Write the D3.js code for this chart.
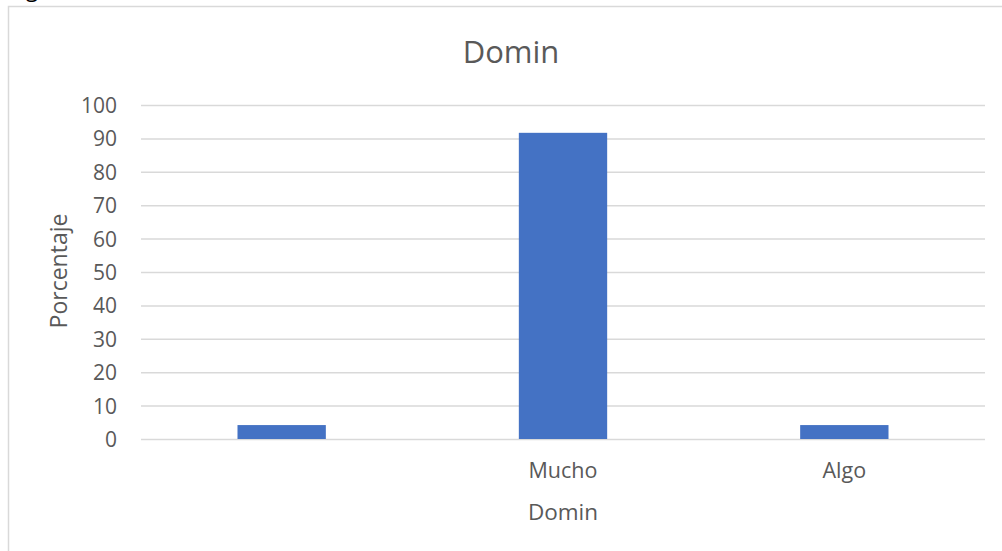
<!DOCTYPE html>
<html><head><meta charset="utf-8">
<script src="https://cdn.jsdelivr.net/npm/d3@7"></script>
<style>body{margin:0;background:#fff;} svg{display:block;} text{font-family:"Open Sans",sans-serif;}</style>
</head><body>
<svg id="c" width="1002" height="551"></svg>
<script>
const categories = ["", "Mucho", "Algo"];
const values = [4.17, 91.67, 4.17];
const yTicks = [0,10,20,30,40,50,60,70,80,90,100];
const chartTitle = "Domin";
const xTitle = "Domin";
const yTitle = "Porcentaje";

const svg = d3.select("#c");
const L = 141, R = 985, T = 105, B = 439;
const textColor = "#595959";

// frame
svg.append("rect").attr("x", 8.5).attr("y", 6.5).attr("width", 1010).attr("height", 560)
  .attr("fill", "none").attr("stroke", "#d9d9d9").attr("stroke-width", 1.5);
// cut-off caption glyph at top-left (as in the reference)
svg.append("text").attr("x", 26).attr("y", -3).attr("font-size", 22).attr("fill", "#000").text("g");

const x = d3.scaleBand().domain(categories.map((d,i)=>i)).range([L, R]).paddingInner(0.686).paddingOuter(0.343);
const y = d3.scaleLinear().domain([0, 100]).range([B, T]);

// gridlines
svg.append("g").selectAll("line").data(yTicks).join("line")
  .attr("x1", L).attr("x2", R).attr("y1", d=>y(d)+0.5).attr("y2", d=>y(d)+0.5)
  .attr("stroke", "#d9d9d9").attr("stroke-width", 1.5);

// y axis labels
const yAxis = d3.axisLeft(y).tickValues(yTicks).tickSize(0).tickPadding(0);
const yg = svg.append("g").attr("transform", `translate(117,0)`).call(yAxis);
yg.select(".domain").remove();
yg.selectAll("text").attr("font-size", 21).attr("fill", textColor).attr("font-family", '"Open Sans",sans-serif').attr("dy", "0.36em");

// bars
svg.append("g").selectAll("rect").data(values).join("rect")
  .attr("x", (d,i)=>x(i)).attr("width", x.bandwidth())
  .attr("y", d=>y(d)).attr("height", d=>B - y(d))
  .attr("fill", "#4472c4");

// x axis labels
const xAxis = d3.axisBottom(x).tickFormat(i=>categories[i]).tickSize(0).tickPadding(0);
const xg = svg.append("g").attr("transform", `translate(0,${B})`).call(xAxis);
xg.select(".domain").remove();
xg.selectAll("text").attr("font-size", 21.5).attr("fill", textColor).attr("font-family", '"Open Sans",sans-serif').attr("dy", null).attr("y", 39);

// titles
svg.append("text").attr("x", 511).attr("y", 63).attr("text-anchor", "middle")
  .attr("font-size", 31).attr("fill", textColor).text(chartTitle);
svg.append("text").attr("x", 563).attr("y", 520).attr("text-anchor", "middle")
  .attr("font-size", 22.5).attr("fill", textColor).text(xTitle);
svg.append("text").attr("transform", "translate(67,271) rotate(-90)").attr("text-anchor", "middle")
  .attr("font-size", 23).attr("fill", textColor).text(yTitle);
</script>
</body></html>
